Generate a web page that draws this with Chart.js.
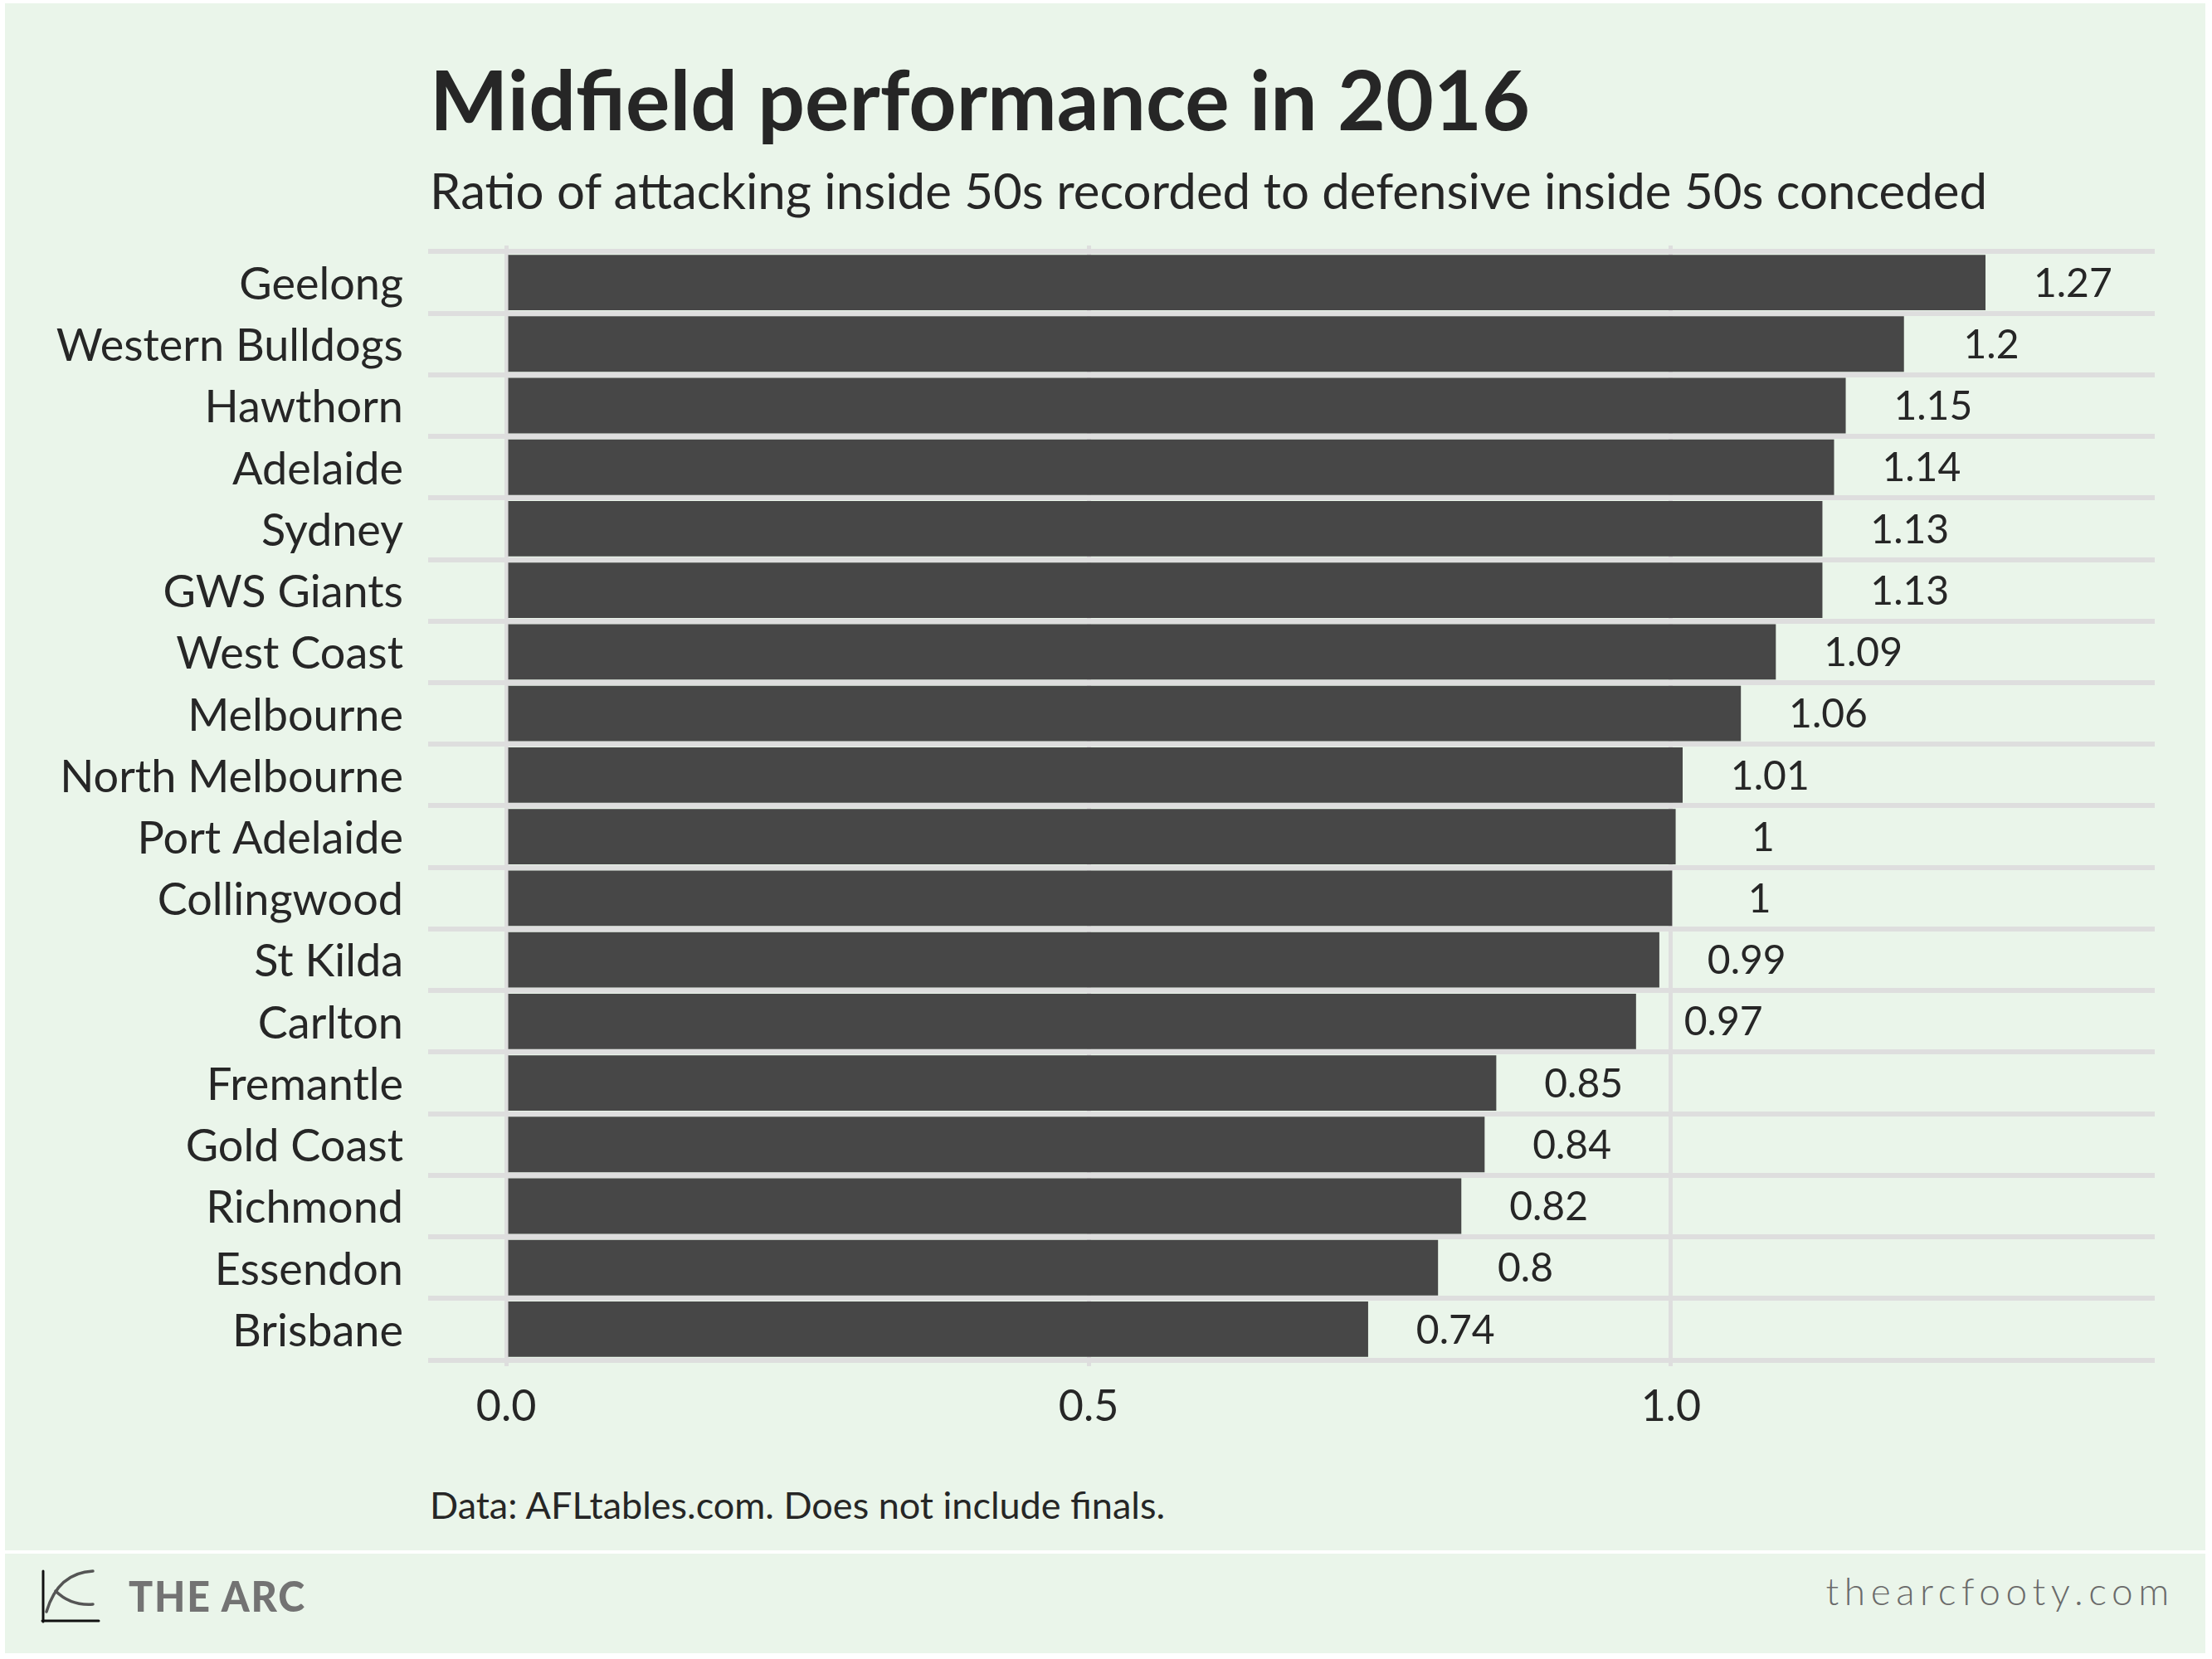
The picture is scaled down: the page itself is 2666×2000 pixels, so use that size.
<!DOCTYPE html>
<html>
<head>
<meta charset="utf-8">
<script src="https://cdn.jsdelivr.net/npm/chart.js@4.4.1/dist/chart.umd.min.js"></script>
<style>
    body {
        margin: 0;
        width: 2666px;
        height: 2000px;
        position: relative;
        overflow: hidden;
        background: #ffffff;
        font-family: Lato, sans-serif;
        color: #262626;
    }
    .panel { position: absolute; left: 6px; width: 2652px; background: #eaf5ea; }
    .txt { position: absolute; white-space: nowrap; line-height: 1.2; }
    #title { left: 518px; top: 58px; font-size: 100px; font-weight: 700; }
    #subtitle { left: 518px; top: 193px; font-size: 60px; }
    #caption { left: 518px; top: 1787px; font-size: 45px; }
    #brand { left: 155px; top: 1893px; font-size: 52px; font-weight: 900; color: #737373; letter-spacing: 2px;
             line-height: 60px; transform-origin: 0 50%; }
    #site { right: 45px; top: 1890px; font-size: 46px; font-weight: 300; color: #6b6b6b; letter-spacing: 6.6px; }
    #chart { position: absolute; left: 0; top: 0; }
    #logo { position: absolute; left: 0; top: 0; }
</style>
</head>
<body>
<div class="panel" style="top:4px;height:1865px"></div>
<div class="panel" style="top:1873px;height:120px"></div>

<div class="txt" id="title">Midfield performance in 2016</div>
<div class="txt" id="subtitle">Ratio of attacking inside 50s recorded to defensive inside 50s conceded</div>
<div class="txt" id="caption">Data: AFLtables.com. Does not include finals.</div>

<svg id="logo" width="200" height="2000">
    <g fill="none" stroke-linecap="round">
        <path d="M52 1894 L52 1955 M51 1954 L119 1954" stroke="#111" stroke-width="3"/>
        <path d="M56 1943 Q70 1896 112 1894" stroke="#555" stroke-width="3.5"/>
        <path d="M67 1918 Q85 1936 112 1934" stroke="#555" stroke-width="3.5"/>
    </g>
</svg>
<div class="txt" id="brand">THE ARC</div>
<div class="txt" id="site">thearcfooty.com</div>

<canvas id="chart" width="2666" height="2000"></canvas>

<script>
const teams = [
    'Geelong', 'Western Bulldogs', 'Hawthorn', 'Adelaide', 'Sydney', 'GWS Giants',
    'West Coast', 'Melbourne', 'North Melbourne', 'Port Adelaide', 'Collingwood',
    'St Kilda', 'Carlton', 'Fremantle', 'Gold Coast', 'Richmond', 'Essendon', 'Brisbane',
];
const ratios = [
    1.27, 1.2, 1.15, 1.14, 1.13, 1.13,
    1.09, 1.06, 1.01, 1.004, 1.001,
    0.99, 0.97, 0.85, 0.84, 0.82, 0.8, 0.74,
];
const xTicks = [0, 0.5, 1.0];

const X_MIN = -0.067;
const X_MAX = 1.4153;
const LABEL_OFFSET = 0.075;

const ink = '#262626';
const gridColor = '#dedede';

function formatRatio(v) {
    return String(Number(v.toFixed(2)));
}

// the wordmark in the footer is a narrow face; squeeze Lato to the same width
const brand = document.getElementById('brand');
brand.style.transform = `scaleX(${214 / brand.offsetWidth})`;

// ratio labels sit a fixed distance to the right of each bar
const barLabels = {
    id: 'barLabels',
    afterDatasetsDraw(chart) {
        const { ctx, scales } = chart;
        const size = 48;
        ctx.save();
        ctx.font = `${size}px Lato`;
        ctx.fillStyle = ink;
        ctx.textAlign = 'center';
        ctx.textBaseline = 'alphabetic';
        ratios.forEach((v, i) => {
            const x = scales.x.getPixelForValue(v + LABEL_OFFSET);
            const y = scales.y.getPixelForValue(i);
            ctx.fillText(formatRatio(v), x, y + size * 0.358);
        });
        ctx.restore();
    },
};

Chart.defaults.font.family = 'Lato';
Chart.defaults.color = ink;

new Chart(document.getElementById('chart'), {
    type: 'bar',
    data: {
        datasets: [
            {
                data: teams.map((t, i) => ({ x: ratios[i], y: i })),
                backgroundColor: '#474747',
                barPercentage: 0.9,
                categoryPercentage: 1,
            },
        ],
    },
    options: {
        indexAxis: 'y',
        responsive: false,
        animation: false,
        layout: { padding: { top: 296, right: 69, bottom: 0, left: 0 } },
        plugins: {
            legend: { display: false },
            tooltip: { enabled: false },
        },
        scales: {
            x: {
                type: 'linear',
                min: X_MIN,
                max: X_MAX,
                afterBuildTicks: (scale) => { scale.ticks = xTicks.map((v) => ({ value: v })); },
                afterFit: (scale) => { scale.height = 353; },
                ticks: {
                    callback: (v) => v.toFixed(1),
                    font: { size: 52 },
                    color: ink,
                    padding: 18,
                    maxRotation: 0,
                },
                grid: { color: gridColor, lineWidth: 5, drawTicks: false },
                border: { display: false },
            },
            y: {
                type: 'linear',
                offset: false,
                min: -0.6,
                max: teams.length - 0.4,
                reverse: true,
                afterBuildTicks: (scale) => { scale.ticks = teams.map((t, i) => ({ value: i })); },
                afterFit: (scale) => { scale.width = 516; },
                ticks: {
                    callback: (v) => teams[v],
                    font: { size: 54 },
                    color: ink,
                    padding: 30,
                    labelOffset: 3,
                },
                grid: { color: gridColor, lineWidth: 6, drawTicks: false },
                border: { display: false },
            },
        },
    },
    plugins: [barLabels],
});
</script>
</body>
</html>
